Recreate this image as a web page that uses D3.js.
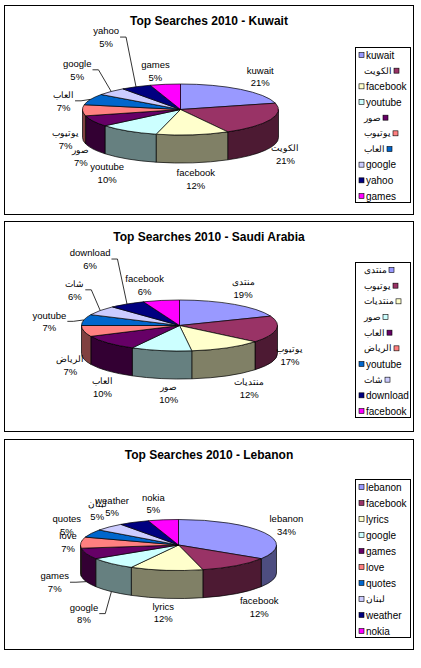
<!DOCTYPE html>
<html>
<head>
<meta charset="utf-8">
<script src="https://cdn.jsdelivr.net/npm/d3@7"></script>
<style>
body { margin: 0; background: #fff; }
text { font-family: Arial, "Liberation Sans", sans-serif; fill: #000; }
</style>
</head>
<body>
<svg id="chart" width="421" height="668"></svg>
<script>
// top search terms per country, share in percent
var chartTitles = ["Top Searches 2010 - Kuwait", "Top Searches 2010 - Saudi Arabia", "Top Searches 2010 - Lebanon"];

var kuwaitTerms  = ["kuwait", "الكويت", "facebook", "youtube", "صور", "يوتيوب", "العاب", "google", "yahoo", "games"];
var kuwaitShares = [21, 21, 12, 10, 7, 7, 7, 5, 5, 5];

var saudiTerms  = ["منتدى", "يوتيوب", "منتديات", "صور", "العاب", "الرياض", "youtube", "شات", "download", "facebook"];
var saudiShares = [19, 17, 12, 10, 10, 7, 7, 6, 6, 6];

var lebanonTerms  = ["lebanon", "facebook", "lyrics", "google", "games", "love", "quotes", "لبنان", "weather", "nokia"];
var lebanonShares = [34, 12, 12, 8, 7, 7, 5, 5, 5, 5];

// excel default pie colours
var sliceColors = ["#9999FF", "#993366", "#FFFFCC", "#CCFFFF", "#660066", "#FF8080", "#0066CC", "#CCCCFF", "#000080", "#FF00FF"];

// ---- layout (kept apart from the data) ----
var panelTops = [5, 221, 439];
var panelHeights = [209, 210, 210];
var pieCx = [176.5, 175.5, 174.5];
var pieCy = [104.5, 104.5, 106];
var rx = 98, ry = 25.5, depth = 28;
var legendTops = [42, 41, 40];
var legendHeights = [155, 155, 158];
var legendRtl = [true, true, false];

// excel moved some labels by hand, these are the nudges
var labelNudges = [
  [[5, 0], [-7, 0], [0, 0], [-8, 0], [9, 0], [7, 0], [-5, 8], [-17, -10], [-19, -35], [-6, 3]],
  [[-5, -3], [-10, -5], [11, -2], [12, -2], [12, 5], [10, 3], [-11, 5], [-6, -11], [-24, -31], [-12, 1]],
  [[1, 0], [9, 0], [0, -2], [-11, 10], [-9, -5], [11, 1], [-3, -1], [5, -5], [-11, -1], [-6, 0]]
];
var leaderLabels = [[6, 7, 8], [6, 7, 8], [3, 4]];

var charts = [
  {title: chartTitles[0], terms: kuwaitTerms, shares: kuwaitShares},
  {title: chartTitles[1], terms: saudiTerms, shares: saudiShares},
  {title: chartTitles[2], terms: lebanonTerms, shares: lebanonShares}
];

var svg = d3.select("#chart");
var pie = d3.pie().sort(null).value(function (d) { return d; });
var pct = d3.format(".0%");
var arabic = /[\u0600-\u06FF]/;

var shade = function (c) {
  var r = d3.rgb(c);
  return d3.rgb(r.r * 0.5, r.g * 0.5, r.b * 0.5).toString();
};

charts.forEach(function (ch, ci) {
  var g = svg.append("g").attr("transform", "translate(4," + panelTops[ci] + ")");

  g.append("rect")
    .attr("x", 0.5).attr("y", 0.5)
    .attr("width", 409).attr("height", panelHeights[ci])
    .attr("fill", "#fff").attr("stroke", "#000").attr("stroke-width", 1);

  g.append("text")
    .attr("x", 205).attr("y", 20)
    .attr("text-anchor", "middle")
    .attr("font-size", 12).attr("font-weight", "bold")
    .text(ch.title);

  var cx = pieCx[ci], cy = pieCy[ci];
  var total = d3.sum(ch.shares);
  var arcs = pie(ch.shares);
  var color = d3.scaleOrdinal().domain(d3.range(ch.terms.length)).range(sliceColors);

  var pt = function (a, dy) {
    return [cx + rx * Math.sin(a), cy - ry * Math.cos(a) + (dy || 0)];
  };

  // outer walls, only the front half shows
  var walls = arcs.map(function (d) {
    return {d: d, a0: Math.max(d.startAngle, Math.PI / 2), a1: Math.min(d.endAngle, 1.5 * Math.PI)};
  }).filter(function (w) { return w.a1 > w.a0; });

  g.selectAll("path.wall")
    .data(walls)
    .join("path")
    .attr("class", "wall")
    .attr("d", function (w) {
      var p0 = pt(w.a0), p1 = pt(w.a1);
      var q0 = pt(w.a0, depth), q1 = pt(w.a1, depth);
      return "M" + p0 + "A" + rx + "," + ry + " 0 0 1 " + p1 +
             "L" + q1 + "A" + rx + "," + ry + " 0 0 0 " + q0 + "Z";
    })
    .attr("fill", function (w) { return shade(color(w.d.index)); })
    .attr("stroke", "#000").attr("stroke-width", 0.7).attr("stroke-linejoin", "round");

  // top faces
  g.selectAll("path.top")
    .data(arcs)
    .join("path")
    .attr("class", "top")
    .attr("d", function (d) {
      var p0 = pt(d.startAngle), p1 = pt(d.endAngle);
      var large = (d.endAngle - d.startAngle) > Math.PI ? 1 : 0;
      return "M" + cx + "," + cy + "L" + p0 + "A" + rx + "," + ry + " 0 " + large + " 1 " + p1 + "Z";
    })
    .attr("fill", function (d) { return color(d.index); })
    .attr("stroke", "#000").attr("stroke-width", 0.7).attr("stroke-linejoin", "round");

  // data labels
  arcs.forEach(function (d, i) {
    var mid = (d.startAngle + d.endAngle) / 2;
    var s = Math.sin(mid), c = Math.cos(mid);
    var nudge = labelNudges[ci][i];
    var lx = cx + 122 * s + nudge[0];
    var ly = cy - 42 * c + (c < 0 ? depth : 0) + nudge[1];
    var isAr = arabic.test(ch.terms[i]);

    var lab = g.append("g").attr("class", "label");
    var t1 = lab.append("text")
      .attr("x", lx).attr("y", ly - 6.25)
      .attr("text-anchor", "middle").attr("dominant-baseline", "central")
      .attr("font-size", isAr ? 8.5 : 9.5)
      .text(ch.terms[i]);
    var t2 = lab.append("text")
      .attr("x", lx).attr("y", ly + 6.25)
      .attr("text-anchor", "middle").attr("dominant-baseline", "central")
      .attr("font-size", 9.5)
      .text(pct(d.value / total));

    if (leaderLabels[ci].indexOf(i) >= 0) {
      var w = Math.max(t1.node().getComputedTextLength(), t2.node().getComputedTextLength());
      var edge = pt(mid, c < 0 ? depth : 0);
      var dir = edge[0] > lx ? 1 : -1;
      var x0 = lx + dir * (w / 2 + 1);
      g.append("path")
        .attr("d", "M" + [x0, ly] + "H" + (x0 + dir * 6) + "L" + edge)
        .attr("fill", "none").attr("stroke", "#000").attr("stroke-width", 0.8);
    }
  });

  // legend
  var lg = g.append("g").attr("transform", "translate(351," + legendTops[ci] + ")");
  lg.append("rect")
    .attr("x", 0.5).attr("y", 0.5)
    .attr("width", 55).attr("height", legendHeights[ci])
    .attr("fill", "#fff").attr("stroke", "#000").attr("stroke-width", 1);

  var rowStep = (legendHeights[ci] - 14) / 9;
  ch.terms.forEach(function (term, i) {
    var yy = 8 + i * rowStep;
    var isAr = arabic.test(term);
    var rtl = legendRtl[ci] && isAr;
    var txt = lg.append("text")
      .attr("y", yy).attr("dominant-baseline", "central")
      .attr("font-size", isAr ? 8.5 : 10)
      .text(term);
    var sx;
    if (rtl) {
      txt.attr("x", 9);
      sx = 9 + txt.node().getComputedTextLength() + 2;
    } else {
      txt.attr("x", 11);
      sx = 4;
    }
    lg.append("rect")
      .attr("x", sx).attr("y", yy - 2.5)
      .attr("width", 5).attr("height", 5)
      .attr("fill", sliceColors[i])
      .attr("stroke", "#000").attr("stroke-width", 0.6);
  });
});
</script>
</body>
</html>
